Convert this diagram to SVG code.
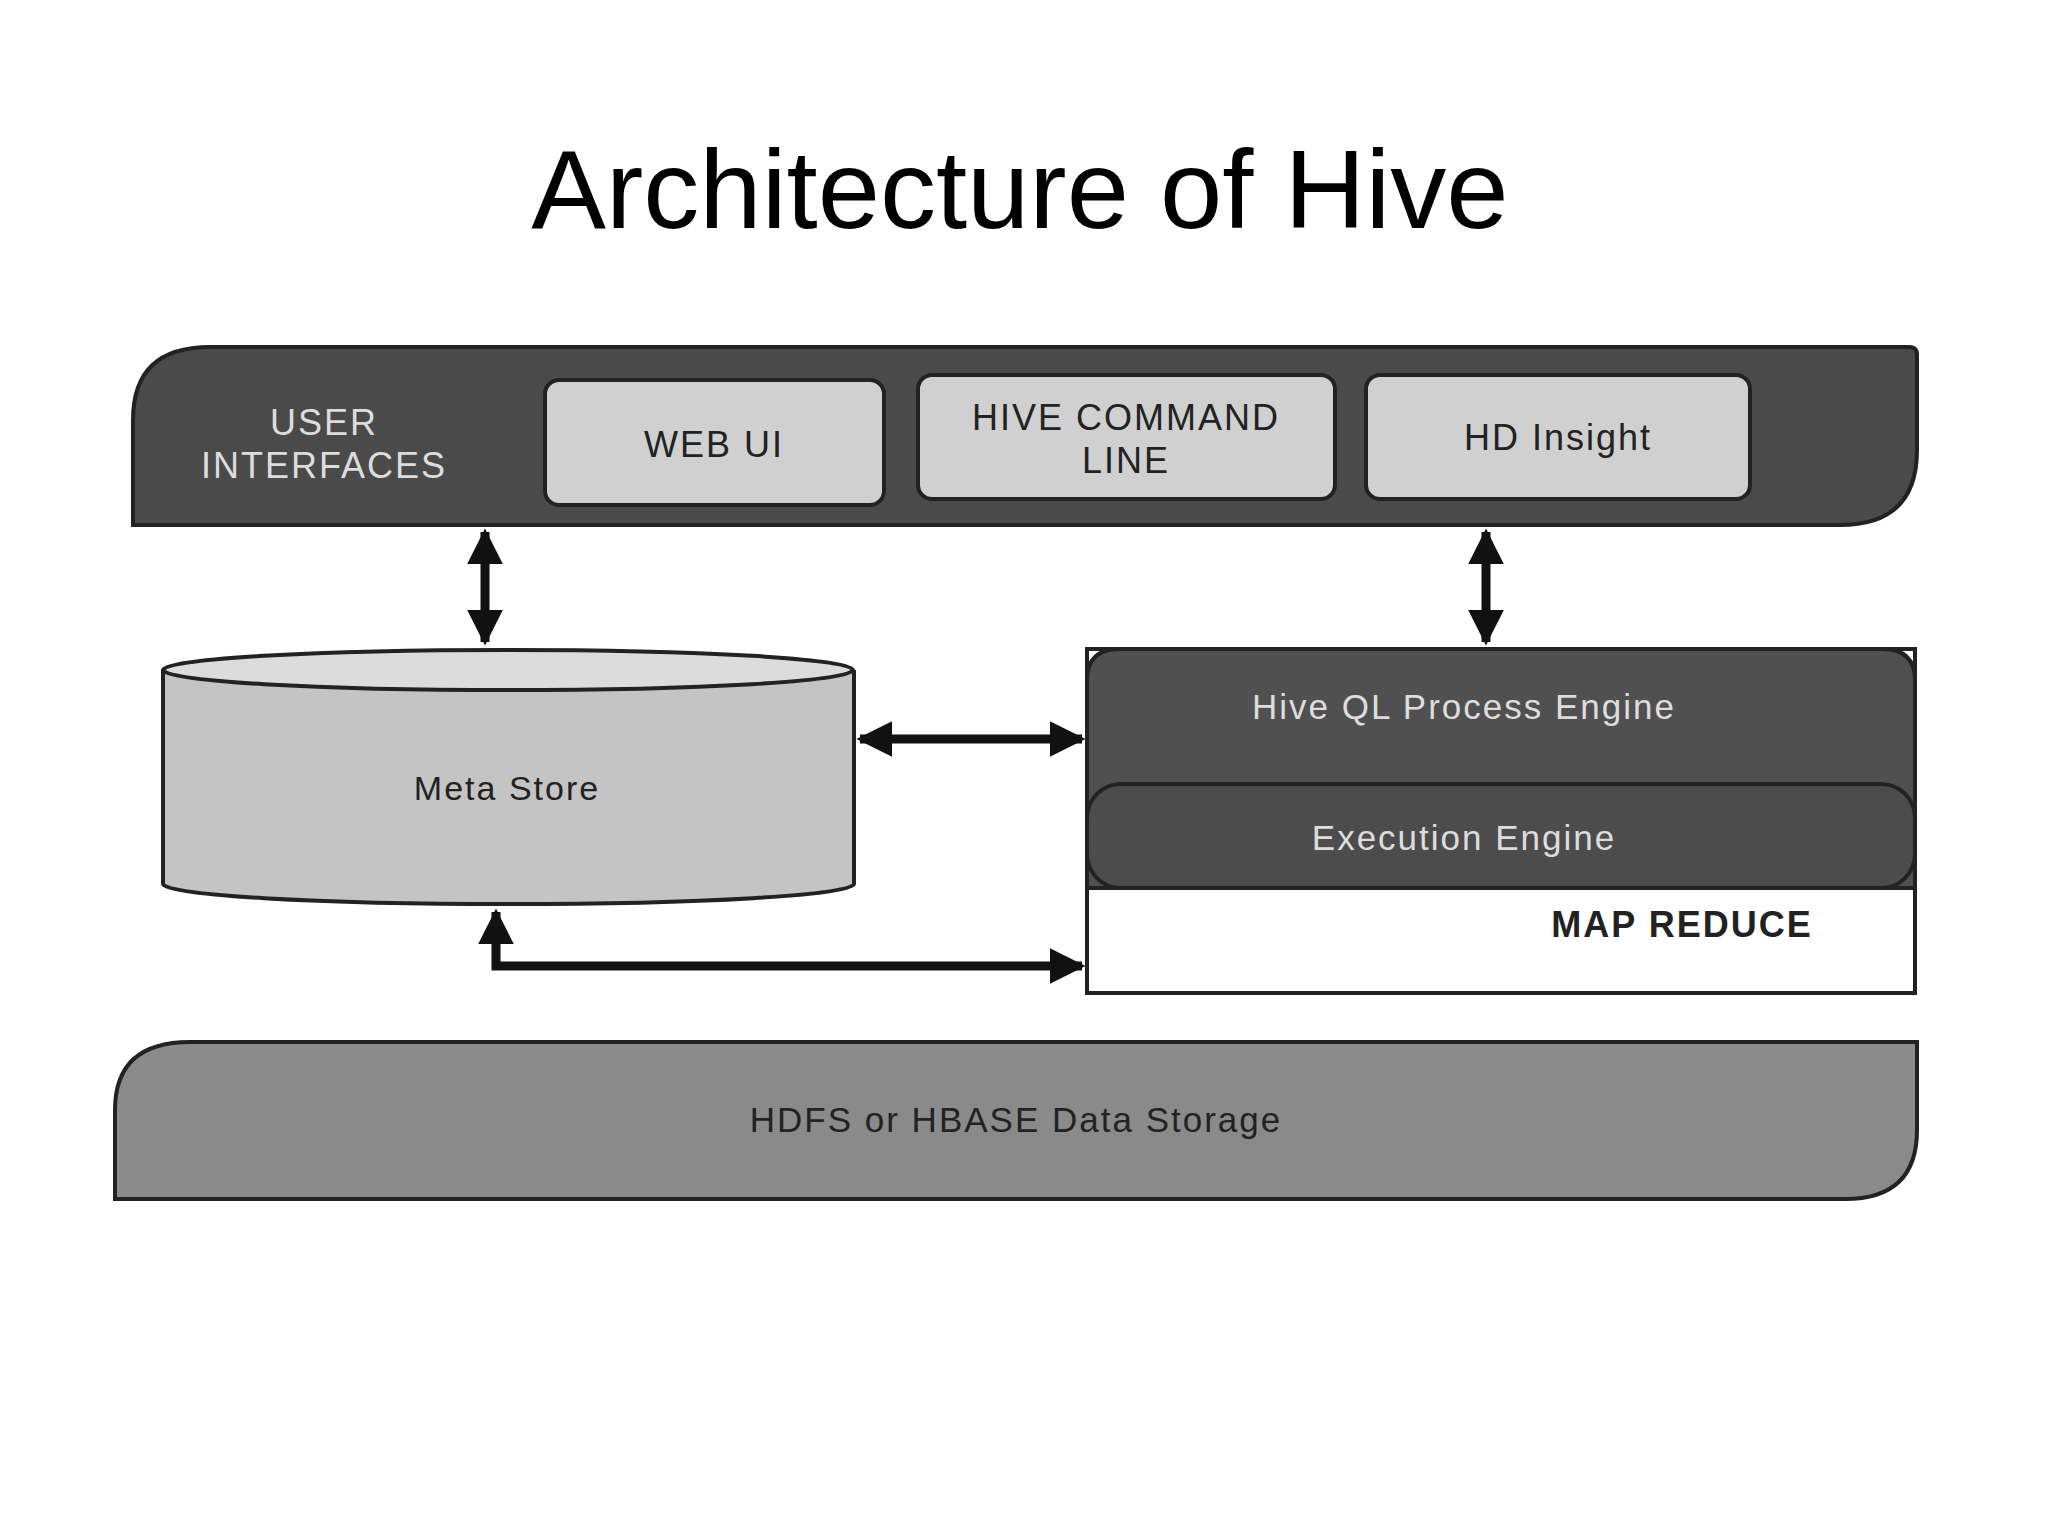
<svg xmlns="http://www.w3.org/2000/svg" width="2048" height="1534" viewBox="0 0 2048 1534">
<style>
.t{font-family:"Liberation Sans",Arial,sans-serif;text-anchor:middle;letter-spacing:2px}
.lt{fill:#d0d0d0;stroke:#222;stroke-width:4}
.c{stroke:#111;stroke-width:9;fill:none}
</style>
<defs>
<marker id="a" viewBox="0 0 10 10" refX="9" refY="5" markerWidth="4" markerHeight="4" orient="auto-start-reverse" markerUnits="strokeWidth"><path d="M0,0L10,5L0,10z" fill="#111"/></marker>
</defs>
<rect width="2048" height="1534" fill="#fff"/>
<text x="1020" y="228" font-size="112" font-family="Liberation Sans,Arial,sans-serif" text-anchor="middle">Architecture of Hive</text>
<g id="ui">
<path d="M133,525 V420 Q133,347 210,347 H1910 Q1917,347 1917,355 V450 Q1917,525 1840,525 Z" fill="#4a4a4a" stroke="#222" stroke-width="4"/>
<text class="t" x="324" y="435" font-size="36" fill="#ddd">USER</text>
<text class="t" x="324" y="478" font-size="36" fill="#ddd">INTERFACES</text>
</g>
<g id="webui"><rect class="lt" x="545" y="380" width="339" height="125" rx="14"/><text class="t" x="714" y="457" font-size="36" fill="#222">WEB UI</text></g>
<g id="cmd"><rect class="lt" x="918" y="375" width="417" height="124" rx="14"/><text class="t" x="1126" y="430" font-size="36" fill="#222">HIVE COMMAND</text><text class="t" x="1126" y="473" font-size="36" fill="#222">LINE</text></g>
<g id="hd"><rect class="lt" x="1366" y="375" width="384" height="124" rx="14"/><text class="t" x="1558" y="450" font-size="36" fill="#222">HD Insight</text></g>
<g id="meta">
<path d="M163,670 V884 A345,20 0 0 0 854,884 V670" fill="#c4c4c4" stroke="#222" stroke-width="4"/>
<ellipse cx="508" cy="670" rx="345" ry="20" fill="#dcdcdc" stroke="#222" stroke-width="4"/>
<text class="t" x="507" y="800" font-size="34" fill="#222">Meta Store</text>
</g>
<g id="mapreduce">
<rect x="1087" y="649" width="828" height="344" fill="#fff" stroke="#222" stroke-width="4"/>
<text class="t" x="1682" y="937" font-size="36" font-weight="bold" fill="#222">MAP REDUCE</text>
</g>
<g id="hiveql">
<path d="M1087,888 V680 Q1087,649 1120,649 H1882 Q1915,649 1915,680 V888 Z" fill="#505050" stroke="#222" stroke-width="4"/>
<text class="t" x="1464" y="719" font-size="35" fill="#ddd">Hive QL Process Engine</text>
</g>
<g id="exec">
<rect x="1087" y="784" width="828" height="104" rx="34" fill="#4c4c4c" stroke="#222" stroke-width="4"/>
<text class="t" x="1464" y="850" font-size="35" fill="#ddd">Execution Engine</text>
</g>
<g id="hdfs">
<path d="M115,1199 V1110 Q115,1042 190,1042 H1917 V1130 Q1917,1199 1845,1199 Z" fill="#8a8a8a" stroke="#222" stroke-width="4"/>
<text class="t" x="1016" y="1132" font-size="35" fill="#222">HDFS or HBASE Data Storage</text>
</g>
<g id="connectors">
<path class="c" d="M485,532 V642" marker-start="url(#a)" marker-end="url(#a)"/>
<path class="c" d="M1486,532 V642" marker-start="url(#a)" marker-end="url(#a)"/>
<path class="c" d="M860,739 H1082" marker-start="url(#a)" marker-end="url(#a)"/>
<path class="c" d="M496,912 V966 H1082" marker-start="url(#a)" marker-end="url(#a)"/>
</g>
</svg>
